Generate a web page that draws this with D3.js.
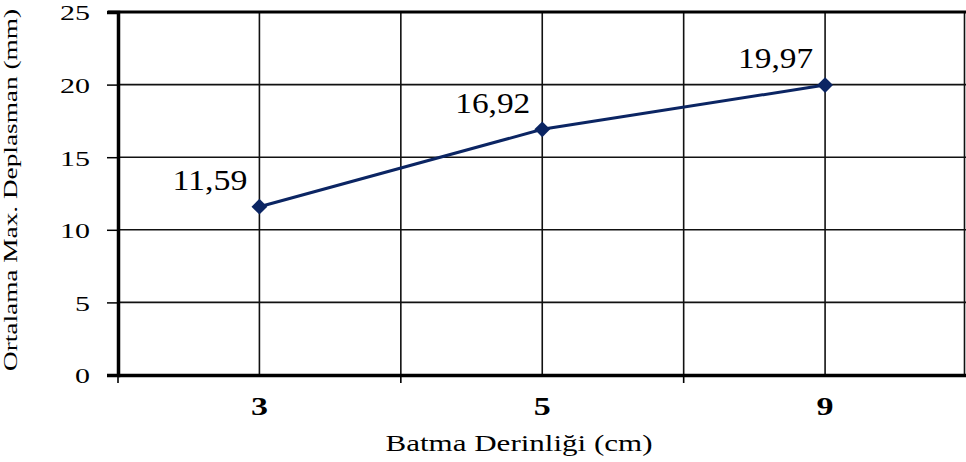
<!DOCTYPE html>
<html>
<head>
<meta charset="utf-8">
<script src="https://cdn.jsdelivr.net/npm/d3@7"></script>
<style>
  body { margin: 0; background: #fff; }
  text { font-family: "Times New Roman", "Liberation Serif", Tinos, serif; fill: #000; }
</style>
</head>
<body>
<div id="chart"></div>
<script>
// data
var depths = ["3", "5", "9"];
var displacement = [11.59, 16.92, 19.97];
var labels = ["11,59", "16,92", "19,97"];
var yTicks = [0, 5, 10, 15, 20, 25];

var W = 966, H = 462;
var margin = { top: 12, right: 0, bottom: 87, left: 118 };

var svg = d3.select("#chart").append("svg")
    .attr("width", W)
    .attr("height", H);

var x = d3.scaleBand()
    .domain(depths)
    .range([margin.left, W + 0.5]);

var y = d3.scaleLinear()
    .domain([0, 25])
    .range([H - margin.bottom, margin.top]);

// horizontal gridlines
svg.append("g").selectAll("line")
    .data(yTicks.filter(function (d) { return d > 0 && d < 25; }))
    .enter().append("line")
    .attr("x1", margin.left).attr("x2", W)
    .attr("y1", function (d) { return y(d); })
    .attr("y2", function (d) { return y(d); })
    .attr("stroke", "#111").attr("stroke-width", 1.6);

// vertical gridlines: band edges and centres
var vLines = [];
depths.forEach(function (d, i) {
    if (i > 0) vLines.push(x(d));
    vLines.push(x(d) + x.bandwidth() / 2);
});
svg.append("g").selectAll("line")
    .data(vLines)
    .enter().append("line")
    .attr("x1", function (d) { return d; })
    .attr("x2", function (d) { return d; })
    .attr("y1", y(25)).attr("y2", y(0))
    .attr("stroke", "#111").attr("stroke-width", 1.6);

// right border
svg.append("line")
    .attr("x1", W - 1.5).attr("x2", W - 1.5)
    .attr("y1", y(25)).attr("y2", y(0))
    .attr("stroke", "#111").attr("stroke-width", 1.6);

// top border
svg.append("line")
    .attr("x1", margin.left - 10).attr("x2", W)
    .attr("y1", y(25)).attr("y2", y(25))
    .attr("stroke", "#000").attr("stroke-width", 3);

// y axis
var yAxis = svg.append("g")
    .attr("transform", "translate(" + margin.left + ",0)")
    .call(d3.axisLeft(y).tickValues(yTicks).tickSize(11).tickPadding(17));
yAxis.attr("font-family", null);
yAxis.select(".domain").attr("stroke-width", 3.5).attr("stroke", "#000");
yAxis.selectAll(".tick line").attr("stroke-width", 1.5).attr("stroke", "#000");
yAxis.selectAll(".tick text")
    .attr("font-size", 22)
    .attr("dy", "0.36em")
    .attr("textLength", function (d) { return String(d).length * 15; })
    .attr("lengthAdjust", "spacingAndGlyphs");

// x axis
var xAxis = svg.append("g")
    .attr("transform", "translate(0," + y(0) + ")")
    .call(d3.axisBottom(x).tickSize(0).tickPadding(31));
xAxis.attr("font-family", null);
xAxis.select(".domain").attr("stroke-width", 3.5).attr("stroke", "#000");
xAxis.selectAll(".tick text")
    .attr("font-size", 25)
    .attr("font-weight", "bold")
    .attr("dy", "0.36em")
    .attr("textLength", 17)
    .attr("lengthAdjust", "spacingAndGlyphs");

// x ticks at band edges
svg.append("g").selectAll("line")
    .data(depths)
    .enter().append("line")
    .attr("x1", function (d) { return x(d); })
    .attr("x2", function (d) { return x(d); })
    .attr("y1", y(0)).attr("y2", y(0) + 8)
    .attr("stroke", "#000").attr("stroke-width", 1.6);

// line
var color = "#0b2563";
var line = d3.line()
    .x(function (d, i) { return x(depths[i]) + x.bandwidth() / 2; })
    .y(function (d) { return y(d); });

svg.append("path")
    .datum(displacement)
    .attr("d", line)
    .attr("fill", "none")
    .attr("stroke", color)
    .attr("stroke-width", 3);

svg.append("g").selectAll("path")
    .data(displacement)
    .enter().append("path")
    .attr("d", d3.symbol().type(d3.symbolSquare).size(125))
    .attr("transform", function (d, i) {
        return "translate(" + (x(depths[i]) + x.bandwidth() / 2) + "," + y(d) + ") rotate(45)";
    })
    .attr("fill", color);

// data labels
svg.append("g").selectAll("text")
    .data(displacement)
    .enter().append("text")
    .attr("x", function (d, i) { return x(depths[i]) + x.bandwidth() / 2 - 12; })
    .attr("y", function (d) { return y(d) - 27; })
    .attr("text-anchor", "end")
    .attr("dy", "0.36em")
    .attr("font-size", 29)
    .attr("textLength", 75)
    .attr("lengthAdjust", "spacingAndGlyphs")
    .text(function (d, i) { return labels[i]; });

// axis titles
svg.append("text")
    .attr("x", 519)
    .attr("y", 442)
    .attr("dy", "0.36em")
    .attr("text-anchor", "middle")
    .attr("font-size", 24)
    .attr("textLength", 267)
    .attr("lengthAdjust", "spacingAndGlyphs")
    .text("Batma Derinliği (cm)");

svg.append("text")
    .attr("transform", "translate(10,190) rotate(-90)")
    .attr("dy", "0.36em")
    .attr("text-anchor", "middle")
    .attr("font-size", 19)
    .attr("textLength", 362)
    .attr("lengthAdjust", "spacingAndGlyphs")
    .text("Ortalama Max. Deplasman (mm)");
</script>
</body>
</html>
